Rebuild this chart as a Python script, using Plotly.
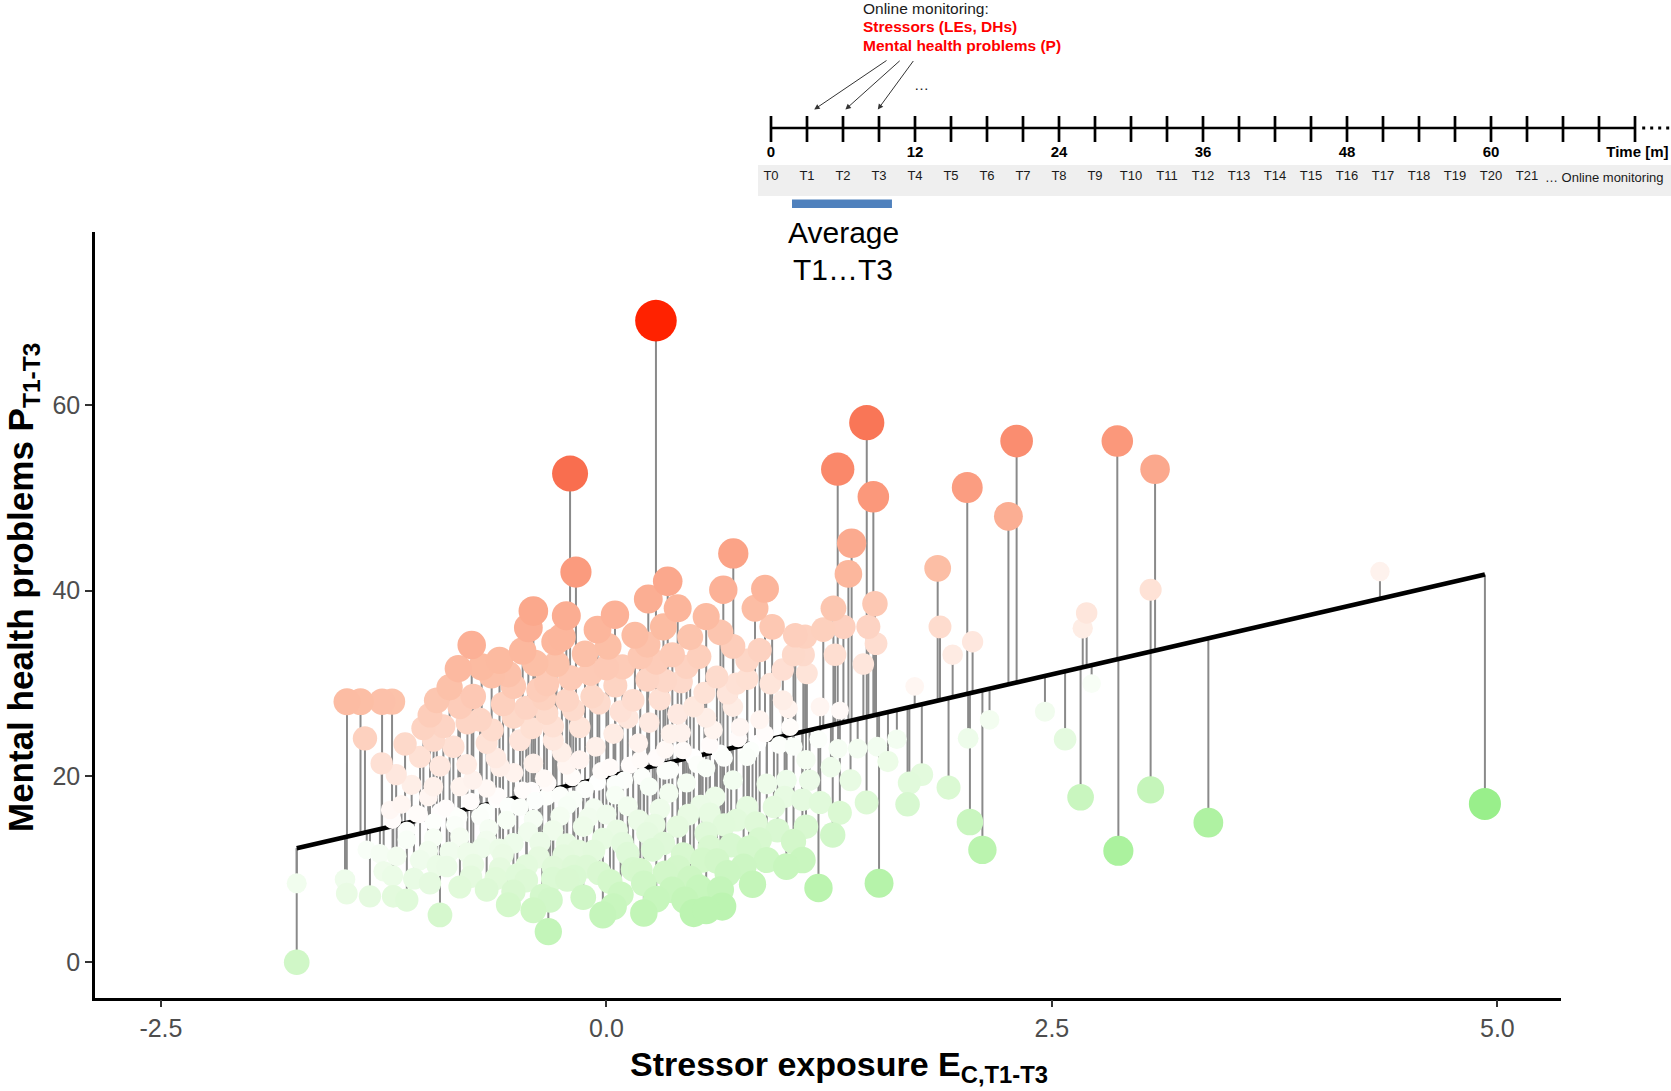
import numpy as np
import plotly.graph_objects as go

# ---------------- data ----------------
# stressor exposure E_C,T1-T3 (x) and mental health problems P_T1-T3 (y)
stressor_exposure = [
    # isolated / high-leverage participants
    0.278, -0.204, -0.171, 0.712, 0.344, 0.235, 0.656, 0.890, 0.400, -0.410, -0.225, 0.048, 0.834, 0.560,
    1.461, 1.298, 1.498, 1.376, 1.358, 1.274, 1.507, 1.330, 1.217, 1.470, 1.513, 1.283, 1.442, 1.115, 1.105, 1.125, 1.199, 1.310,
    2.025, 2.302, 2.256, 2.867, 3.079, 1.859, 1.872, 1.943, 2.055, 3.054, 2.695, 2.673, 1.730,
    4.930, 4.341, 3.378, 2.873, 3.054, 2.661, 2.574, 2.461, 2.723,
    # right part of the cloud
    1.19, 1.30, 1.41, 1.52, 1.63, 1.58, 1.12, 1.26, 1.37, 1.14, 1.77, 1.70, 2.03, 2.15, 1.92, 1.69, 1.46, 1.20, 1.31, 1.12, 1.27, 2.04, 2.11, 1.19, 1.53, 1.10, 1.05,
    # centre, upper part
    0.93, 1.06, 0.23, 0.01, -0.25, 0.16, 0.32, 0.64, 0.71, 0.79, 1.05, 0.37, 0.52, -0.09, 0.09, 0.23, 0.62, 0.79, 0.99, -0.22, -0.04, 0.15, 0.49, 0.71, 0.86,
    -0.15, 0.04, 0.36, 0.60, 0.75, 1.05, 0.33, 0.49, 0.64, 0.79, 0.19, -0.15, 0.02,
    # centre, lower part
    0.24, 0.45, 0.71, 1.01, 0.79, 0.58, 0.94, 1.10, 0.86, 0.77, 1.01, 0.64, 0.65, 0.49, 0.37, 0.21, 0.04, -0.13, 0.21, 0.02, 0.54, 0.43, 0.26, 0.12, -0.07, -0.24,
    0.56, 0.40, 0.23, 0.06, -0.13, 0.53, 0.30, 0.12, -0.07, -0.22, -0.22, -0.11,
    # left, upper part
    -0.438, -0.288, -0.756, -0.831, -0.644, -0.40, -1.456, -1.380, -1.259, -1.203, -1.355, -1.261, -0.952, -1.027, -1.046, -1.093, -0.971, -0.915, -0.822, -0.747,
    -0.522, -0.335, -0.709, -0.522, -0.335, -0.186, -0.859, -0.672, -0.485, -0.298, -0.934, -0.784, -0.597, -0.41, -0.223, -0.822, -0.672, -1.214, -1.065, -0.934, -0.85,
    # left, lower part
    -1.738, -1.738, -1.467, -1.327, -1.457, -1.196, -1.12, -0.934, -0.326, -0.316, -1.271, -1.345, -1.177, -1.046, -0.896, -0.747, -0.597, -0.447, -0.298, -0.99,
    -0.822, -0.672, -0.522, -1.12, -0.971, -0.822, -0.672, -0.522, -0.373, -0.223, -0.709, -0.56, -0.41, -0.26, -0.616, -0.485, -0.335, -0.186, -0.186, -0.41,
    # further participants inside the dense cloud
    -0.60, -0.47, -0.12, 0.05, 0.30, 0.42, 0.55, -0.05, 0.28, 0.47, -0.35, -0.58, 0.12, 0.24, 0.40, -0.30, -0.06, -0.42, -0.78, -0.97, 0.68, 0.92,
    -0.52, -0.35, -0.05, 0.10, 0.33, 0.56, 0.85, -0.75, -1.00, -1.15,
    -0.78, -0.62, -0.45, -0.30, -0.02, 0.15, 0.33, 0.47, 0.62, 0.70, 0.84, 0.66, 0.35, 0.05, -0.42, -0.95, -1.20, -0.55, 0.28, -0.85, 0.90,
    # participants lying close to the fitted line
    -1.20, -1.12, -1.05, -0.97, -0.90, -0.83, -0.76, -0.68, -0.61, -0.55, -0.47, -0.40, -0.33, -0.26, -0.19, -0.12,
    -0.03, 0.05, 0.13, 0.20, 0.28, 0.36, 0.43, 0.51, 0.58, 0.66, 0.74, 0.81, 0.89, 0.97, 1.03,
    # more of the dense lower (green) cloud
    -1.25, -1.08, -1.00, -0.88, -0.76, -0.70, -0.66, -0.58, -0.50, -0.44, -0.38, -0.36, -0.30, -0.18, -0.16, -0.10, -0.04, 0.00, 0.08, 0.09,
    0.18, 0.19, 0.27, 0.32, 0.40, 0.44, 0.46, 0.52, 0.58, 0.61, 0.68, 0.73, 0.80, 0.82, 0.90, 0.96, 1.00, 0.56, -0.02, -0.60,
    # more of the dense upper (pink) cloud
    -1.13, -1.18, -0.99, -0.88, -0.70, -0.64, -0.55, -0.45, -0.38, -0.28, -0.20, -0.08, 0.00, 0.08, 0.19, 0.33, 0.45, 0.56, 0.73, 0.86,
    0.99, 1.02, 0.18, -0.25, -0.62, 0.42,
]
mental_health = [
    69.06, 52.6, 42.0, 44.0, 41.0, 39.1, 40.1, 40.2, 38.1, 37.8, 37.3, 37.4, 38.1, 37.2,
    58.08, 53.07, 50.1, 45.1, 41.8, 38.1, 38.6, 36.1, 35.8, 36.1, 34.3, 33.1, 32.1, 35.05, 33.1, 31.1, 27.5, 27.1,
    51.1, 56.1, 48.0, 56.1, 53.07, 42.4, 36.1, 33.1, 34.5, 40.1, 37.6, 35.95, 29.7,
    17.04, 42.05, 15.03, 12.0, 18.55, 17.76, 24.0, 26.97, 30.0,
    24.0, 23.0, 23.0, 23.2, 24.0, 21.6, 21.8, 21.0, 19.6, 19.6, 20.2, 19.3, 24.1, 26.1, 18.8, 17.0, 17.2, 17.2, 16.1, 14.6, 13.7, 15.1, 12.1, 8.0, 8.5, 11.0, 13.0,
    36.1, 35.2, 34.2, 34.0, 35.0, 35.2, 36.1, 35.5, 34.0, 32.5, 33.1, 33.1, 32.9, 31.1, 31.8, 30.4, 30.7, 30.5, 28.2, 28.2, 27.9, 28.2, 27.5, 27.5, 26.1,
    25.3, 24.6, 24.6, 25.0, 25.3, 23.2, 22.9, 22.1, 22.5, 22.1, 21.8, 21.8, 21.0,
    18.9, 19.3, 19.6, 19.6, 16.7, 16.0, 16.7, 17.5, 13.2, 10.3, 10.3, 7.8, 6.0, 5.3, 7.8, 5.3, 6.0, 7.0, 8.5, 8.7, 11.0, 11.6, 12.1, 11.7, 12.0, 11.5,
    13.9, 14.6, 13.9, 14.2, 14.6, 16.9, 16.5, 16.8, 16.6, 16.9, 8.9, 10.3,
    36.0, 34.5, 34.15, 31.6, 30.9, 32.2, 28.05, 28.05, 28.05, 28.05, 24.1, 21.4, 28.2, 25.2, 22.1, 19.1, 18.9, 25.4, 27.5, 28.6,
    29.7, 30.0, 26.1, 26.4, 26.8, 27.2, 23.2, 23.6, 23.9, 23.9, 21.1, 21.3, 21.0, 21.4, 21.2, 18.9, 18.7, 16.4, 16.0, 16.2, 15.8,
    8.5, 0.0, 8.9, 7.1, 7.4, 7.1, 6.7, 5.1, 3.3, 6.7, 11.7, 12.1, 11.4, 11.0, 10.3, 10.5, 10.1, 10.4, 10.2, 8.5,
    8.1, 7.8, 7.6, 13.2, 13.4, 13.5, 13.1, 12.8, 12.9, 12.7, 15.7, 15.3, 15.4, 15.7, 17.5, 16.7, 17.8, 17.5, 10.3, 5.6,
    32.5, 33.5, 33.2, 29.8, 28.3, 30.2, 29.0, 35.8, 32.3, 35.0, 28.4, 27.8, 26.3, 25.8, 26.7, 25.4, 23.2, 25.2, 25.8, 23.9, 28.9, 30.0,
    20.4, 19.8, 19.4, 19.6, 20.6, 20.9, 23.6, 19.6, 17.8, 17.0,
    11.8, 9.0, 8.8, 14.2, 13.3, 10.0, 9.6, 9.0, 10.9, 12.6, 15.0, 14.8, 18.2, 18.0, 18.5, 10.4, 9.3, 6.2, 6.8, 14.8, 19.2,
    15.3, 14.2, 15.9, 15.1, 16.6, 15.6, 17.3, 16.2, 17.9, 16.8, 18.5, 17.4, 19.3, 18.0, 19.9, 18.6,
    20.6, 19.2, 21.2, 20.0, 22.0, 20.7, 22.8, 21.3, 23.4, 22.0, 24.1, 22.8, 24.6, 23.4, 25.3,
    9.8, 9.0, 12.0, 11.9, 9.2, 12.3, 14.4, 11.6, 9.4, 14.0, 11.3, 7.1, 9.0, 9.2, 12.0, 15.6, 9.6, 15.9, 7.3, 12.8,
    15.3, 9.9, 14.8, 12.8, 10.2, 6.7, 15.9, 8.0, 12.4, 17.8, 9.6, 15.3, 12.3, 8.4, 11.0, 14.2, 17.8, 5.6, 5.1, 12.2,
    23.5, 20.2, 26.6, 29.6, 31.8, 25.0, 31.0, 27.4, 29.3, 32.1, 30.6, 28.6, 31.7, 27.0, 32.9, 30.3, 31.8, 26.3, 30.0, 33.6,
    31.5, 27.3, 23.6, 22.6, 22.0, 24.7,
]

# fitted regression line P = a + b * E
reg_intercept = 19.95
reg_slope = 4.418

# main axes ticks
x_tick_values = [-2.5, 0.0, 2.5, 5.0]
x_tick_text = ["-2.5", "0.0", "2.5", "5.0"]
y_tick_values = [0, 20, 40, 60]

# study timeline (months)
timeline_tick_months = list(range(0, 73, 3))
timeline_wave_labels = [f"T{i}" for i in range(22)]
timeline_month_labels = [0, 12, 24, 36, 48, 60]

# ---------------- figure ----------------
W, H = 1671, 1091
FONT = "Liberation Sans, Arial, sans-serif"

x = np.array(stressor_exposure, dtype=float)
y = np.array(mental_health, dtype=float)
pred = reg_intercept + reg_slope * x
res = y - pred
R = float(np.abs(res).max())
order = np.argsort(np.abs(res), kind="stable")
sizes = np.sqrt(290 + 30 * np.abs(res))

seg_x, seg_y = [], []
for xi, yi, pi in zip(x, y, pred):
    seg_x += [xi, xi, None]
    seg_y += [yi, pi, None]

colorscale = [
    [0.0, "#5ee04c"], [0.24, "#98ef8a"], [0.34, "#c3f5b8"], [0.42, "#e3fadd"],
    [0.5, "#ffffff"], [0.56, "#fee6dc"], [0.65, "#fcbda4"], [0.72, "#fba286"],
    [0.85, "#f96e4f"], [1.0, "#ff2200"],
]

fig = go.Figure()
fig.add_trace(go.Scatter(x=seg_x, y=seg_y, mode="lines",
                         line=dict(color="#8a8a8a", width=2), hoverinfo="skip"))
xl = np.array([x.min(), x.max()])
fig.add_trace(go.Scatter(x=xl, y=reg_intercept + reg_slope * xl, mode="lines",
                         line=dict(color="black", width=4.5), hoverinfo="skip"))
fig.add_trace(go.Scatter(
    x=x[order], y=y[order], mode="markers",
    marker=dict(size=sizes[order], color=res[order], cmin=-R, cmax=R,
                colorscale=colorscale, line=dict(width=0), opacity=1, showscale=False),
))

# ---- timeline (x2 in months, y2 in pixel rows from the top) ----
tl_y_line = 128
fig.add_trace(go.Scatter(x=[timeline_tick_months[0], timeline_tick_months[-1]], y=[tl_y_line, tl_y_line],
                         mode="lines", line=dict(color="black", width=2.7),
                         xaxis="x2", yaxis="y2", hoverinfo="skip"))
fig.add_trace(go.Scatter(x=[timeline_tick_months[-1] + 0.6, 75.0], y=[tl_y_line, tl_y_line],
                         mode="lines", line=dict(color="black", width=3, dash="3px,5px"),
                         xaxis="x2", yaxis="y2", hoverinfo="skip"))
tx, ty = [], []
for m in timeline_tick_months:
    tx += [m, m, None]
    ty += [116, 142, None]
fig.add_trace(go.Scatter(x=tx, y=ty, mode="lines", line=dict(color="black", width=2.7),
                         xaxis="x2", yaxis="y2", hoverinfo="skip"))
fig.add_trace(go.Scatter(x=[3 * i for i in range(len(timeline_wave_labels))],
                         y=[177] * len(timeline_wave_labels), text=timeline_wave_labels,
                         mode="text", textfont=dict(family=FONT, size=13, color="#1a1a1a"),
                         xaxis="x2", yaxis="y2", cliponaxis=False, hoverinfo="skip"))
fig.add_trace(go.Scatter(x=timeline_month_labels + [72.2], y=[153] * (len(timeline_month_labels) + 1),
                         text=[f"<b>{m}</b>" for m in timeline_month_labels] + ["<b>Time [m]</b>"],
                         mode="text", textfont=dict(family=FONT, size=15, color="black"),
                         xaxis="x2", yaxis="y2", cliponaxis=False, hoverinfo="skip"))

shapes = [
    dict(type="rect", xref="x2", yref="y2", x0=-1.08, x1=75, y0=165, y1=196,
         fillcolor="#efefef", line=dict(width=0), layer="below"),
    dict(type="rect", xref="x2", yref="y2", x0=1.75, x1=10.08, y0=199.5, y1=208,
         fillcolor="#4f81bd", line=dict(width=0), layer="above"),
]

annotations = []
def tl_text(xm, yp, text, size, color="#1a1a1a", xanchor="left"):
    annotations.append(dict(x=xm, y=yp, xref="x2", yref="y2", text=text, showarrow=False,
                            xanchor=xanchor, yanchor="middle",
                            font=dict(family=FONT, size=size, color=color)))

tl_text(7.5, 8, "Online monitoring:", 15.5)
tl_text(7.5, 26.5, "<b>Stressors (LEs, DHs)</b>", 15.5, color="#ff0000")
tl_text(7.5, 45, "<b>Mental health problems (P)</b>", 15.5, color="#ff0000")
tl_text(12.5, 84, "…", 15, xanchor="center")
tl_text(64.3, 177, "… Online monitoring", 13)
tl_text(6.0, 232, "Average", 30, color="black", xanchor="center")
tl_text(6.0, 269, "T1…T3", 30, color="black", xanchor="center")

for (hx, tx_) in [(3.6, 9.75), (6.2, 10.85), (8.9, 11.95)]:
    annotations.append(dict(x=hx, y=109.5, xref="x2", yref="y2", ax=tx_, ay=59.5,
                            axref="x2", ayref="y2", text="", showarrow=True,
                            arrowhead=2, arrowsize=1.1, arrowwidth=1, arrowcolor="#333333",
                            standoff=0, startstandoff=0))

# axis titles
annotations.append(dict(x=839 / W, y=1 - 1066 / H, xref="paper", yref="paper",
                        text="<b>Stressor exposure E<sub>C,T1-T3</sub></b>", showarrow=False,
                        xanchor="center", yanchor="middle",
                        font=dict(family=FONT, size=34, color="black")))
annotations.append(dict(x=23 / W, y=1 - 588 / H, xref="paper", yref="paper",
                        text="<b>Mental health problems P<sub>T1-T3</sub></b>", showarrow=False,
                        textangle=-90, xanchor="center", yanchor="middle",
                        font=dict(family=FONT, size=35, color="black")))

axis_common = dict(showline=True, linecolor="black", linewidth=2.5, ticks="outside",
                   ticklen=7, tickwidth=2, tickcolor="#333333", showgrid=False, zeroline=False,
                   tickfont=dict(family=FONT, size=25, color="#4d4d4d"))

fig.update_layout(
    width=W, height=H, margin=dict(l=0, r=0, t=0, b=0),
    paper_bgcolor="white", plot_bgcolor="rgba(0,0,0,0)",
    showlegend=False, shapes=shapes, annotations=annotations,
    xaxis=dict(domain=[95 / W, 1561 / W], range=[-2.870, 5.357], anchor="y",
               tickvals=x_tick_values, ticktext=x_tick_text, **axis_common),
    yaxis=dict(domain=[(H - 997.5) / H, (H - 232) / H], range=[-3.79, 78.6], anchor="x",
               tickvals=y_tick_values, **axis_common),
    xaxis2=dict(domain=[700 / W, 1.0], range=[(700 - 771) / 12, (W - 771) / 12],
                anchor="y2", visible=False),
    yaxis2=dict(domain=[(H - 300) / H, 1.0], range=[300, 0], anchor="x2", visible=False),
)

fig.write_html("out.html", config={"displayModeBar": False},
               post_script="document.body.style.margin='0';")
